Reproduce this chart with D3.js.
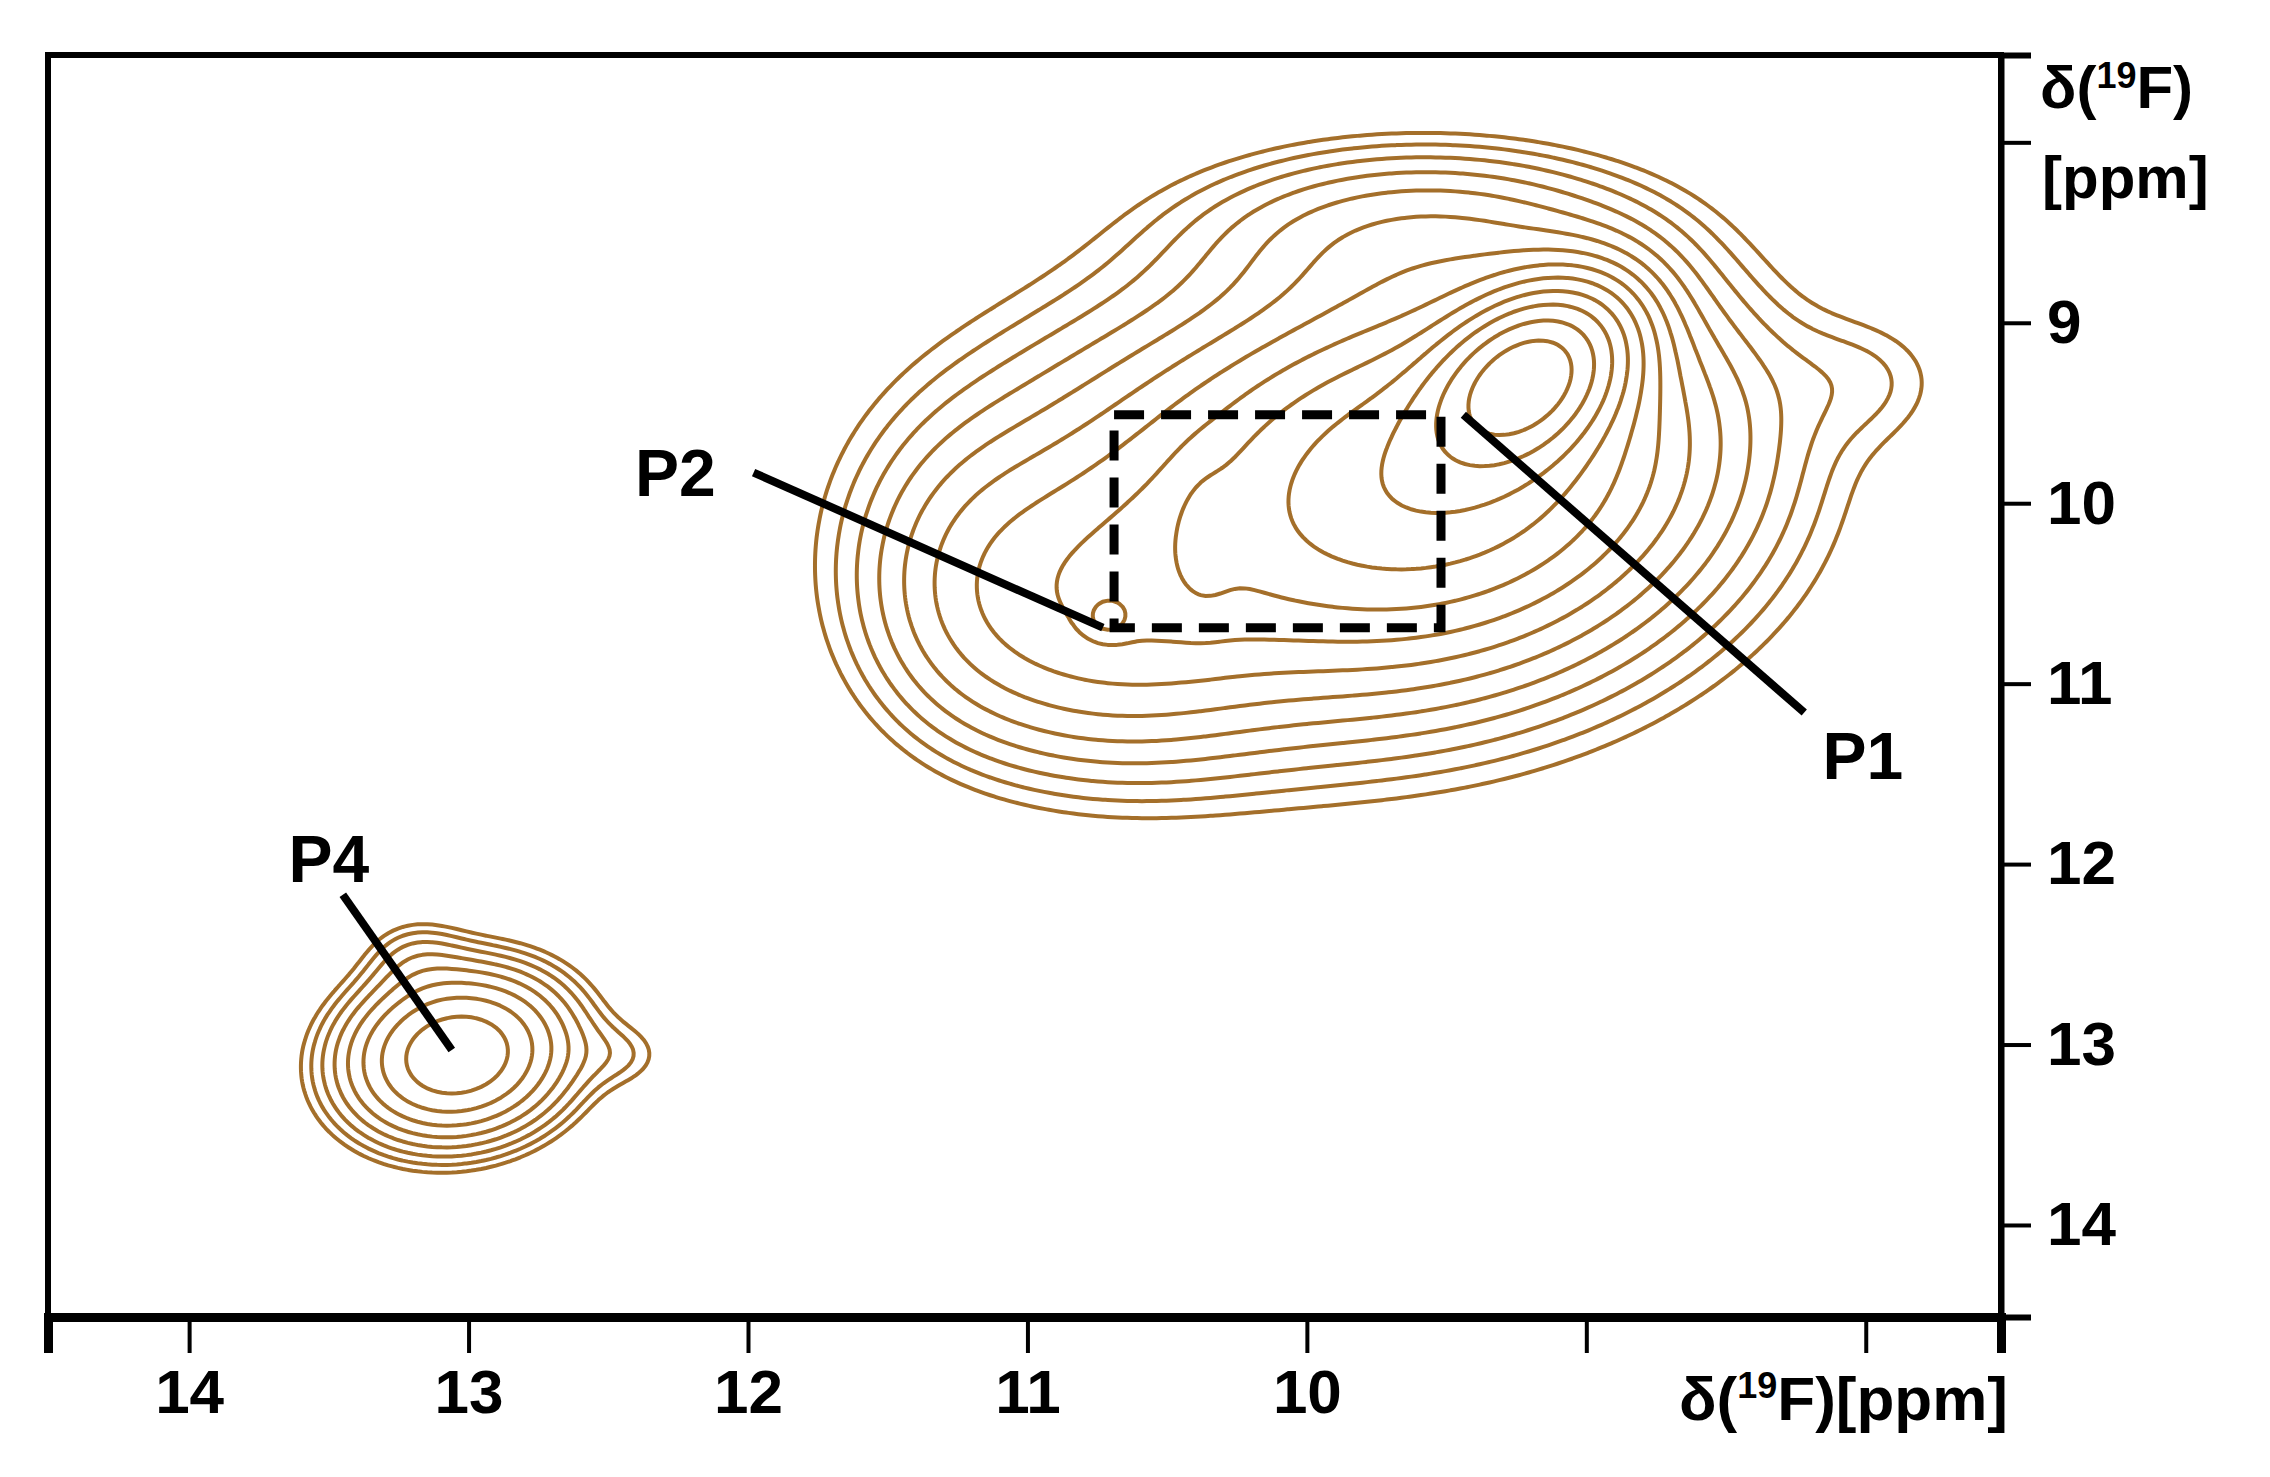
<!DOCTYPE html>
<html>
<head>
<meta charset="utf-8">
<script src="https://cdn.jsdelivr.net/npm/d3@7"></script>
<style>
  body { margin: 0; background: #fff; }
  text { font-family: "Liberation Sans", Arial, sans-serif; font-weight: bold; fill: #000; }
</style>
</head>
<body>
<div id="chart"></div>
<script>
// Peaks (ppm): [x, y, sx, sy, rho, amplitude]
const peaks = [
  [9.22, 9.30, 0.20, 0.28, 0.35, 0.80],    // P1
  [9.50, 9.80, 0.50, 0.55, 0.20, 0.28],
  [9.90, 10.00, 0.80, 0.75, 0.05, 0.12],
  [10.75, 10.60, 0.40, 0.50, 0.0, 0.08],
  [10.72, 10.62, 0.05, 0.07, 0.0, 0.09],   // P2
  [10.38, 10.20, 0.07, 0.25, 0.0, 0.04],
  [9.60, 8.50, 0.50, 0.30, 0.0, 0.05],
  [11.20, 10.40, 0.25, 0.50, 0.0, 0.025],
  [8.00, 9.30, 0.22, 0.25, 0.0, 0.012],
  [13.05, 13.05, 0.24, 0.28, 0.1, 0.18],   // P4
  [13.20, 12.50, 0.12, 0.15, 0.0, 0.015],
  [12.45, 13.05, 0.12, 0.13, 0.0, 0.012]
];
const levels = [0.012, 0.017, 0.024, 0.034, 0.048, 0.068, 0.096, 0.135, 0.19, 0.27, 0.38, 0.54, 0.76];
const xTicks = [14, 13, 12, 11, 10, 9, 8];
const xTickLabels = ["14", "13", "12", "11", "10", "", ""];
const yTicks = [8, 9, 10, 11, 12, 13, 14];
const yTickLabels = ["", "9", "10", "11", "12", "13", "14"];
const labels = [
  { name: "P1", tx: 8.01, ty: 11.40, line: [[9.44, 9.51], [8.22, 11.16]] },
  { name: "P2", tx: 12.26, ty: 9.83, line: [[11.98, 9.83], [10.73, 10.69]] },
  { name: "P4", tx: 13.50, ty: 11.97, line: [[13.45, 12.17], [13.06, 13.03]] }
];
const box = [10.69, 9.51, 9.52, 10.69]; // x0, y0, x1, y1 in ppm

const W = 2270, H = 1477;
const mLeft = 48, mRight = 2001, mTop = 55, mBottom = 1317;
const xDom = [14.505, 7.516], yDom = [7.516, 14.51];

const svg = d3.select("#chart").append("svg").attr("width", W).attr("height", H);
const x = d3.scaleLinear().domain(xDom).range([mLeft, mRight]);
const y = d3.scaleLinear().domain(yDom).range([mTop, mBottom]);

svg.append("clipPath").attr("id", "clip").append("rect")
  .attr("x", mLeft).attr("y", mTop).attr("width", mRight - mLeft).attr("height", mBottom - mTop);

// intensity grid
const n = 400, m = 400;
const gx = d3.scaleLinear().domain([0, n - 1]).range(xDom);
const gy = d3.scaleLinear().domain([0, m - 1]).range(yDom);
const values = new Float64Array(n * m);
for (let j = 0; j < m; j++) {
  for (let i = 0; i < n; i++) {
    const px = gx(i), py = gy(j);
    let v = 0;
    peaks.forEach(([cx, cy, sx, sy, r, a]) => {
      const u = (px - cx) / sx, w = (py - cy) / sy;
      v += a * Math.exp(-(u * u - 2 * r * u * w + w * w) / (2 * (1 - r * r)));
    });
    values[j * n + i] = v;
  }
}
const contours = d3.contours().size([n, m]).thresholds(levels)(values);
const proj = d3.geoTransform({
  point(px, py) { this.stream.point(x(gx(px)), y(gy(py))); }
});
svg.append("g").attr("clip-path", "url(#clip)")
  .selectAll("path").data(contours).join("path")
  .attr("d", d3.geoPath(proj))
  .attr("fill", "none")
  .attr("stroke", "#A46F2A")
  .attr("stroke-width", 4);

// frame
svg.append("rect").attr("x", mLeft).attr("y", mTop)
  .attr("width", mRight - mLeft).attr("height", mBottom - mTop)
  .attr("fill", "none").attr("stroke", "#000").attr("stroke-width", 6);

// x axis
const xa = svg.append("g").attr("transform", `translate(0,${mBottom})`)
  .call(d3.axisBottom(x).tickValues(xTicks).tickSize(36).tickPadding(16)
    .tickFormat((d, i) => xTickLabels[i]));
xa.select(".domain").attr("stroke-width", 9);
xa.selectAll(".tick line").attr("stroke-width", 4);
xa.selectAll("text").attr("font-size", 62).style("font-family", "Liberation Sans").style("font-weight", "bold");

// y axis (right)
const ya = svg.append("g").attr("transform", `translate(${mRight},0)`)
  .call(d3.axisRight(y).tickValues(yTicks).tickSize(30).tickPadding(16)
    .tickFormat((d, i) => yTickLabels[i]));
ya.select(".domain").attr("stroke-width", 6);
ya.selectAll(".tick line").attr("stroke-width", 4);
ya.selectAll("text").attr("font-size", 62).style("font-family", "Liberation Sans").style("font-weight", "bold");

// axis titles
const t1 = svg.append("text").attr("x", 2040).attr("y", 108).attr("font-size", 60);
t1.append("tspan").text("δ(");
t1.append("tspan").attr("font-size", 36).attr("dy", -20).text("19");
t1.append("tspan").attr("dy", 20).text("F)");
svg.append("text").attr("x", 2042).attr("y", 198).attr("font-size", 60).text("[ppm]");
const t2 = svg.append("text").attr("x", 2008).attr("y", 1420).attr("font-size", 62).attr("text-anchor", "end");
t2.append("tspan").text("δ(");
t2.append("tspan").attr("font-size", 36).attr("dy", -22).text("19");
t2.append("tspan").attr("dy", 22).text("F)[ppm]");

// dashed box
svg.append("rect")
  .attr("x", x(box[0])).attr("y", y(box[1]))
  .attr("width", x(box[2]) - x(box[0])).attr("height", y(box[3]) - y(box[1]))
  .attr("fill", "none").attr("stroke", "#000").attr("stroke-width", 9)
  .attr("stroke-dasharray", "30,17");

// peak labels
labels.forEach(l => {
  svg.append("line")
    .attr("x1", x(l.line[0][0])).attr("y1", y(l.line[0][1]))
    .attr("x2", x(l.line[1][0])).attr("y2", y(l.line[1][1]))
    .attr("stroke", "#000").attr("stroke-width", 8);
  svg.append("text").attr("x", x(l.tx)).attr("y", y(l.ty))
    .attr("text-anchor", "middle").attr("dominant-baseline", "central")
    .attr("font-size", 66).text(l.name);
});
</script>
</body>
</html>
